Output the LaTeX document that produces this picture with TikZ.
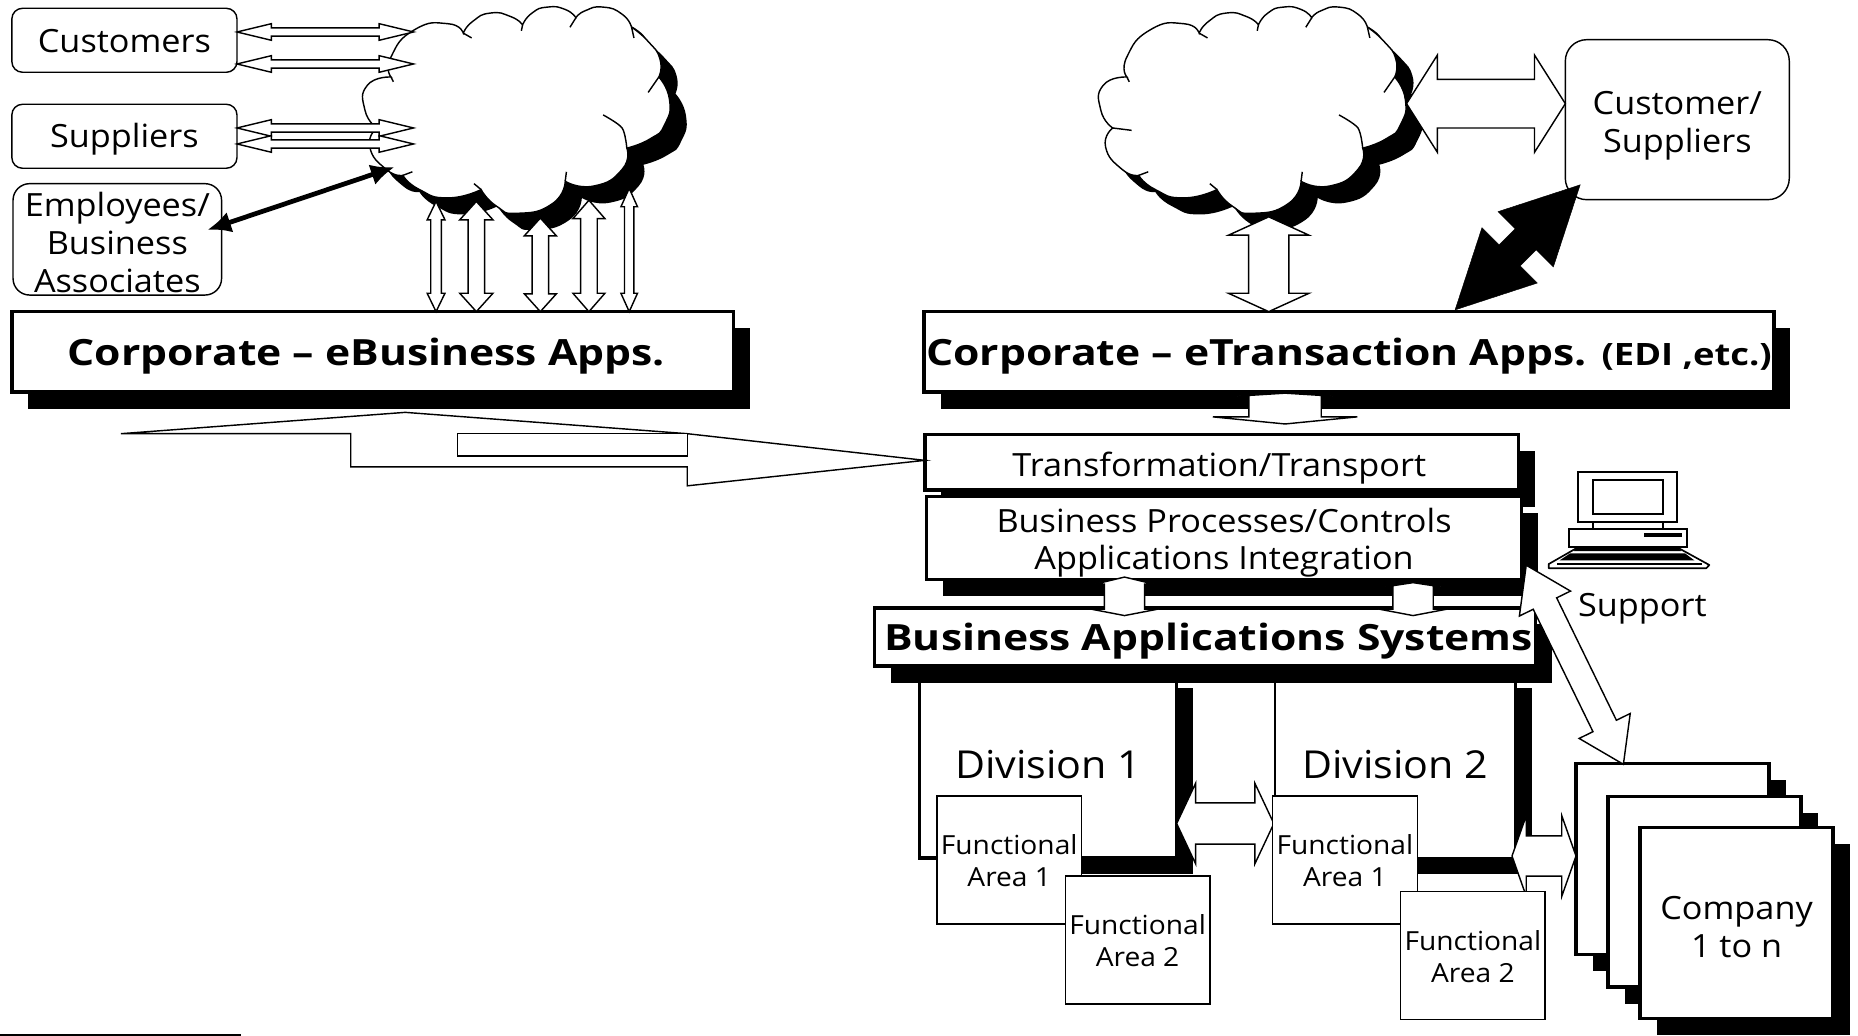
\documentclass[tikz,border=0pt]{standalone}
\usepackage{fontspec}
\setmainfont{Open Sans}[FakeStretch=1.07,BoldFeatures={FakeStretch=1.18}]
\usetikzlibrary{calc,positioning,arrows.meta,shadows}

\tikzset{
  basetext/.style={font=\fontsize{27}{32}\selectfont,align=center,inner sep=0pt,outer sep=0pt},
  thinline/.style={draw=black,fill=white,line width=1.2pt},
  blockstyle/.style={thinline},
  textdrop/.style={execute at begin node={\rule{0pt}{#1}}},
  roundbox/.style={basetext,thinline,rounded corners=9pt},
  fabox/.style={basetext,thinline,font=\fontsize{22.2}{27}\selectfont,textdrop=45.7pt,minimum width=122pt,minimum height=108pt},
  barbox/.style={basetext,draw=black,fill=white,line width=3pt,drop shadow={shadow xshift=14pt,shadow yshift=-14pt,opacity=1,fill=black}},
  bartitle/.style={font=\fontsize{30.5}{36}\selectfont\bfseries,textdrop=31pt},
  companybox/.style={barbox,minimum width=163pt,minimum height=161pt},
  thickarrow/.style={line width=4pt,{Latex[length=20pt,width=18pt]}-{Latex[length=20pt,width=18pt]}}
}

% from, to, head length, head half, other head length, other head half, shaft half
\newcommand{\headarrow}[7]{%
  \draw[blockstyle,line join=miter] (#1)
    -- ($ (#1)!#3!(#2)!#4!90:(#2) $) -- ($ (#1)!#3!(#2)!#7!90:(#2) $)
    -- ($ (#2)!#5!(#1)!#7!-90:(#1) $) -- ($ (#2)!#5!(#1)!#6!-90:(#1) $)
    -- (#2)
    -- ($ (#2)!#5!(#1)!#6!90:(#1) $) -- ($ (#2)!#5!(#1)!#7!90:(#1) $)
    -- ($ (#1)!#3!(#2)!#7!-90:(#2) $) -- ($ (#1)!#3!(#2)!#4!-90:(#2) $)
    -- cycle;}
\newcommand{\blockarrow}[5]{\headarrow{#1}{#2}{#3}{#4}{#3}{#4}{#5}}

\newcommand{\cloudpath}{
  plot[smooth,tension=1] coordinates {(951,65) (951,48) (971,25) (999,20) (1012,28)}
  -- plot[smooth,tension=1] coordinates {(1012,28) (1020,18) (1035,11) (1052,14) (1062,21)}
  -- plot[smooth,tension=1] coordinates {(1062,21) (1070,11) (1083,6) (1098,8) (1107,15)}
  -- plot[smooth,tension=1] coordinates {(1107,15) (1115,9) (1130,6) (1146,12) (1154,23)}
  -- plot[smooth,tension=1] coordinates {(1154,23) (1168,35) (1178,50) (1177,65)}
  -- plot[smooth,tension=1] coordinates {(1177,65) (1186,84) (1182,105) (1170,117) (1150,125)}
  -- plot[smooth,tension=1] coordinates {(1150,125) (1146,143) (1122,157) (1098,153)}
  -- plot[smooth,tension=1] coordinates {(1098,153) (1087,172) (1058,180) (1040,174) (1027,160)}
  -- plot[smooth,tension=1] coordinates {(1027,160) (999,167) (975,160) (961,148)}
  -- plot[smooth,tension=1] coordinates {(961,148) (947,143) (933,124) (939,108)}
  -- plot[smooth,tension=1] coordinates {(939,108) (929,93) (931,72) (951,65)}
  -- cycle}

\tikzset{
  cloudpic/.pic={
    \fill[black,shift={(14,14)}] \cloudpath;
    \draw[thinline] \cloudpath;
    \draw[line width=1.2pt] (1012,28) -- (1019,32);
    \draw[line width=1.2pt] (1062,21) -- (1061,26);
    \draw[line width=1.2pt] (1107,15) -- (1102,23);
    \draw[line width=1.2pt] (1154,23) -- (1156,32);
    \draw[line width=1.2pt] (1177,65) -- (1168,78);
    \draw[line width=1.2pt] plot[smooth] coordinates {(1130,97) (1146,108) (1150,125)};
    \draw[line width=1.2pt] (1098,153) -- (1099,145);
    \draw[line width=1.2pt] (1027,160) -- (1021,155);
    \draw[line width=1.2pt] (961,148) -- (969,145);
    \draw[line width=1.2pt] (939,108) -- (955,110);
    \draw[line width=1.2pt] (951,65) -- (953,69);
  }
}

\begin{document}
\begin{tikzpicture}[x=1pt,y=-1pt]
  \useasboundingbox (0,0) rectangle (1568,874);
  \coordinate (notea) at (0,873.4);
  \coordinate (noteb) at (203,873.4);
  \draw[line width=1pt] (notea) -- (noteb);

  % left side
  \pic at (-621,0) {cloudpic};
  \node[roundbox,textdrop=21pt,minimum width=190pt,minimum height=54pt] (customers) at (105,34) {Customers};
  \node[roundbox,textdrop=26pt,minimum width=190pt,minimum height=54pt] (suppliers) at (105,115) {Suppliers};
  \node[roundbox,textdrop=89.5pt,minimum width=176pt,minimum height=94pt,rounded corners=14pt] (employees) at (99,202) {Employees/\\Business\\Associates};
  \node[barbox,bartitle,minimum width=609pt,minimum height=68pt] (corpbiz) at (314.5,297) {Corporate -- eBusiness Apps.\hspace{11pt}};

  \coordinate (custa) at ($ (customers.east) + (0,-7) $);
  \coordinate (custb) at ($ (customers.east) + (0,20) $);
  \coordinate (suppa) at ($ (suppliers.east) + (0,-7) $);
  \coordinate (suppb) at ($ (suppliers.east) + (0,6.5) $);
  \coordinate (netcust) at (349,27);
  \coordinate (netcustb) at (349,54);
  \coordinate (netsupp) at (349,108);
  \coordinate (netsuppb) at (349,121.5);
  \blockarrow{custa}{netcust}{29pt}{7pt}{3.5pt}
  \blockarrow{custb}{netcustb}{29pt}{7pt}{3.5pt}
  \blockarrow{suppa}{netsupp}{29pt}{7pt}{3.5pt}
  \blockarrow{suppb}{netsuppb}{29pt}{7pt}{3.5pt}

  \coordinate (emptip) at (175,194);
  \coordinate (netemp) at (333,141);
  \draw[thickarrow] (emptip) -- (netemp);

  \coordinate (neta) at (368,170);
  \coordinate (netb) at (402,170);
  \coordinate (netc) at (456,184);
  \coordinate (netd) at (497,169);
  \coordinate (nete) at (531,159);
  \coordinate (bara) at ($ (corpbiz.north west) + (358,0) $);
  \coordinate (barb) at ($ (corpbiz.north west) + (392,0) $);
  \coordinate (barc) at ($ (corpbiz.north west) + (446,0) $);
  \coordinate (bard) at ($ (corpbiz.north west) + (487,0) $);
  \coordinate (bare) at ($ (corpbiz.north west) + (521,0) $);
  \blockarrow{neta}{bara}{15.5pt}{7.5pt}{4.5pt}
  \blockarrow{netb}{barb}{15.5pt}{14pt}{7pt}
  \blockarrow{netc}{barc}{15pt}{13.5pt}{7pt}
  \blockarrow{netd}{bard}{15.5pt}{13.5pt}{7pt}
  \blockarrow{nete}{bare}{15.5pt}{7pt}{4pt}

  % right side
  \pic at (0,0) {cloudpic};
  \node[roundbox,textdrop=62.5pt,minimum width=189pt,minimum height=135pt,rounded corners=18pt] (custsupp) at (1415.5,101) {Customer/\\Suppliers};
  \node[barbox,bartitle,minimum width=717pt,minimum height=68pt] (corptrans) at (1138.5,297) {Corporate -- eTransaction Apps. {\fontsize{26}{30}\selectfont(EDI ,etc.)}};

  \coordinate (netright) at (1187,87.5);
  \coordinate (custleft) at (custsupp.west |- netright);
  \blockarrow{netright}{custleft}{26pt}{41pt}{20.5pt}

  \coordinate (netbot) at (1070.7,183);
  \coordinate (bartop) at (netbot |- corptrans.north);
  \blockarrow{netbot}{bartop}{15.5pt}{34pt}{17pt}

  \coordinate (blacka) at (1228,261.5);
  \coordinate (blackb) at (1333.5,156);
  \begin{scope}[blockstyle/.style={fill=black}]
    \blockarrow{blacka}{blackb}{65pt}{33pt}{12.5pt}
  \end{scope}

  % divisions
  \node[barbox,font=\fontsize{32.5}{36}\selectfont,minimum width=217pt,minimum height=157pt] (divone) at (884.5,645.5) {Division 1};
  \node[barbox,font=\fontsize{32.5}{36}\selectfont,line width=2.2pt,minimum width=203pt,minimum height=157pt] (divtwo) at (1177.5,645.5) {Division 2};

  \node[barbox,textdrop=30.5pt,minimum width=501pt,minimum height=47pt] (transform) at (1031,390) {Transformation/Transport\hspace{4pt}};
  \node[barbox,textdrop=60.5pt,minimum width=502pt,minimum height=70pt] (busproc) at (1033,454) {Business Processes/Controls\\Applications Integration};
  \node[barbox,bartitle,minimum width=558pt,minimum height=49pt] (busapps) at (1017,537.5) {\hspace{6pt}Business Applications Systems};

  \coordinate (transtop) at (1084.5,331.8);
  \coordinate (transbot) at (1084.5,357.8);
  \headarrow{transtop}{transbot}{2.5pt}{40pt}{6pt}{61pt}{30.5pt}

  \coordinate (longtip) at ($ (transform.west) + (0,-1.5) $);
  \draw[thinline,line join=miter] (102,366) -- (342,348) -- (580,366) -- (longtip) -- (580,410) -- (580,394) -- (296,394) -- (296,366) -- cycle;
  \draw[thinline] (386,366) rectangle (580,385);

  \coordinate (appstopa) at (949,487);
  \coordinate (appsbota) at (949,519.5);
  \coordinate (appstopb) at (1192.5,491.7);
  \coordinate (appsbotb) at (1192.5,519.5);
  \headarrow{appstopa}{appsbota}{6pt}{25pt}{5.5pt}{28.5pt}{17pt}
  \headarrow{appstopb}{appsbotb}{3.5pt}{23pt}{5.5pt}{29pt}{17pt}

  % companies
  \node[companybox] (compa) at (1411.5,725) {};
  \node[companybox] (compb) at (1438.5,752.5) {};
  \node[companybox,textdrop=58.5pt] (compc) at (1465.5,779) {Company\\1 to n};

  \coordinate (divarrowa) at (993,695);
  \coordinate (divarrowb) at (1075,695);
  \blockarrow{divarrowa}{divarrowb}{16pt}{34pt}{17.4pt}
  \coordinate (comparrowa) at (1276,722.4);
  \coordinate (comparrowb) at (compa.west |- comparrowa);
  \blockarrow{comparrowa}{comparrowb}{12pt}{34pt}{17pt}

  \node[fabox] (areaoneone) at (851.7,725.7) {Functional\\Area 1};
  \node[fabox] (areaonetwo) at (960,793.2) {Functional\\Area 2};
  \node[fabox] (areatwoone) at (1135,725.7) {Functional\\Area 1};
  \node[fabox] (areatwotwo) at (1243,806.3) {Functional\\Area 2};

  % computer
  \draw[line width=1.6pt] (1332,398.3) rectangle (1415,440.5);
  \draw[line width=1.6pt] (1344,405) rectangle (1403.5,433.7);
  \draw[line width=1.6pt] (1344,440.5) -- (1344,446.6);
  \draw[line width=1.6pt] (1403.5,440.5) -- (1403.5,446.6);
  \draw[line width=1.6pt] (1323.8,446.6) rectangle (1423.7,461.7);
  \fill[black] (1387.4,450) rectangle (1419.4,453);
  \draw[thinline,line width=1.4pt,line join=round] (1332,461.7) -- (1307,476) -- (1307,479.5) -- (1440,479.5) -- (1442.5,476.8) -- (1415,461.7) -- cycle;
  \fill[black] (1332,461) -- (1415,461) -- (1419,465) -- (1328,465) -- cycle;
  \fill[black] (1325,467) -- (1422,467) -- (1430,473) -- (1316,473) -- cycle;
  \draw[line width=1.2pt] (1314,476) -- (1436,476);
  \node[basetext,textdrop=25.5pt] (support) at (1386,511) {Support};

  \coordinate (supporta) at (1288,477);
  \coordinate (supportb) at (1370,645);
  \blockarrow{supporta}{supportb}{36pt}{24pt}{11pt}
\end{tikzpicture}
\end{document}
